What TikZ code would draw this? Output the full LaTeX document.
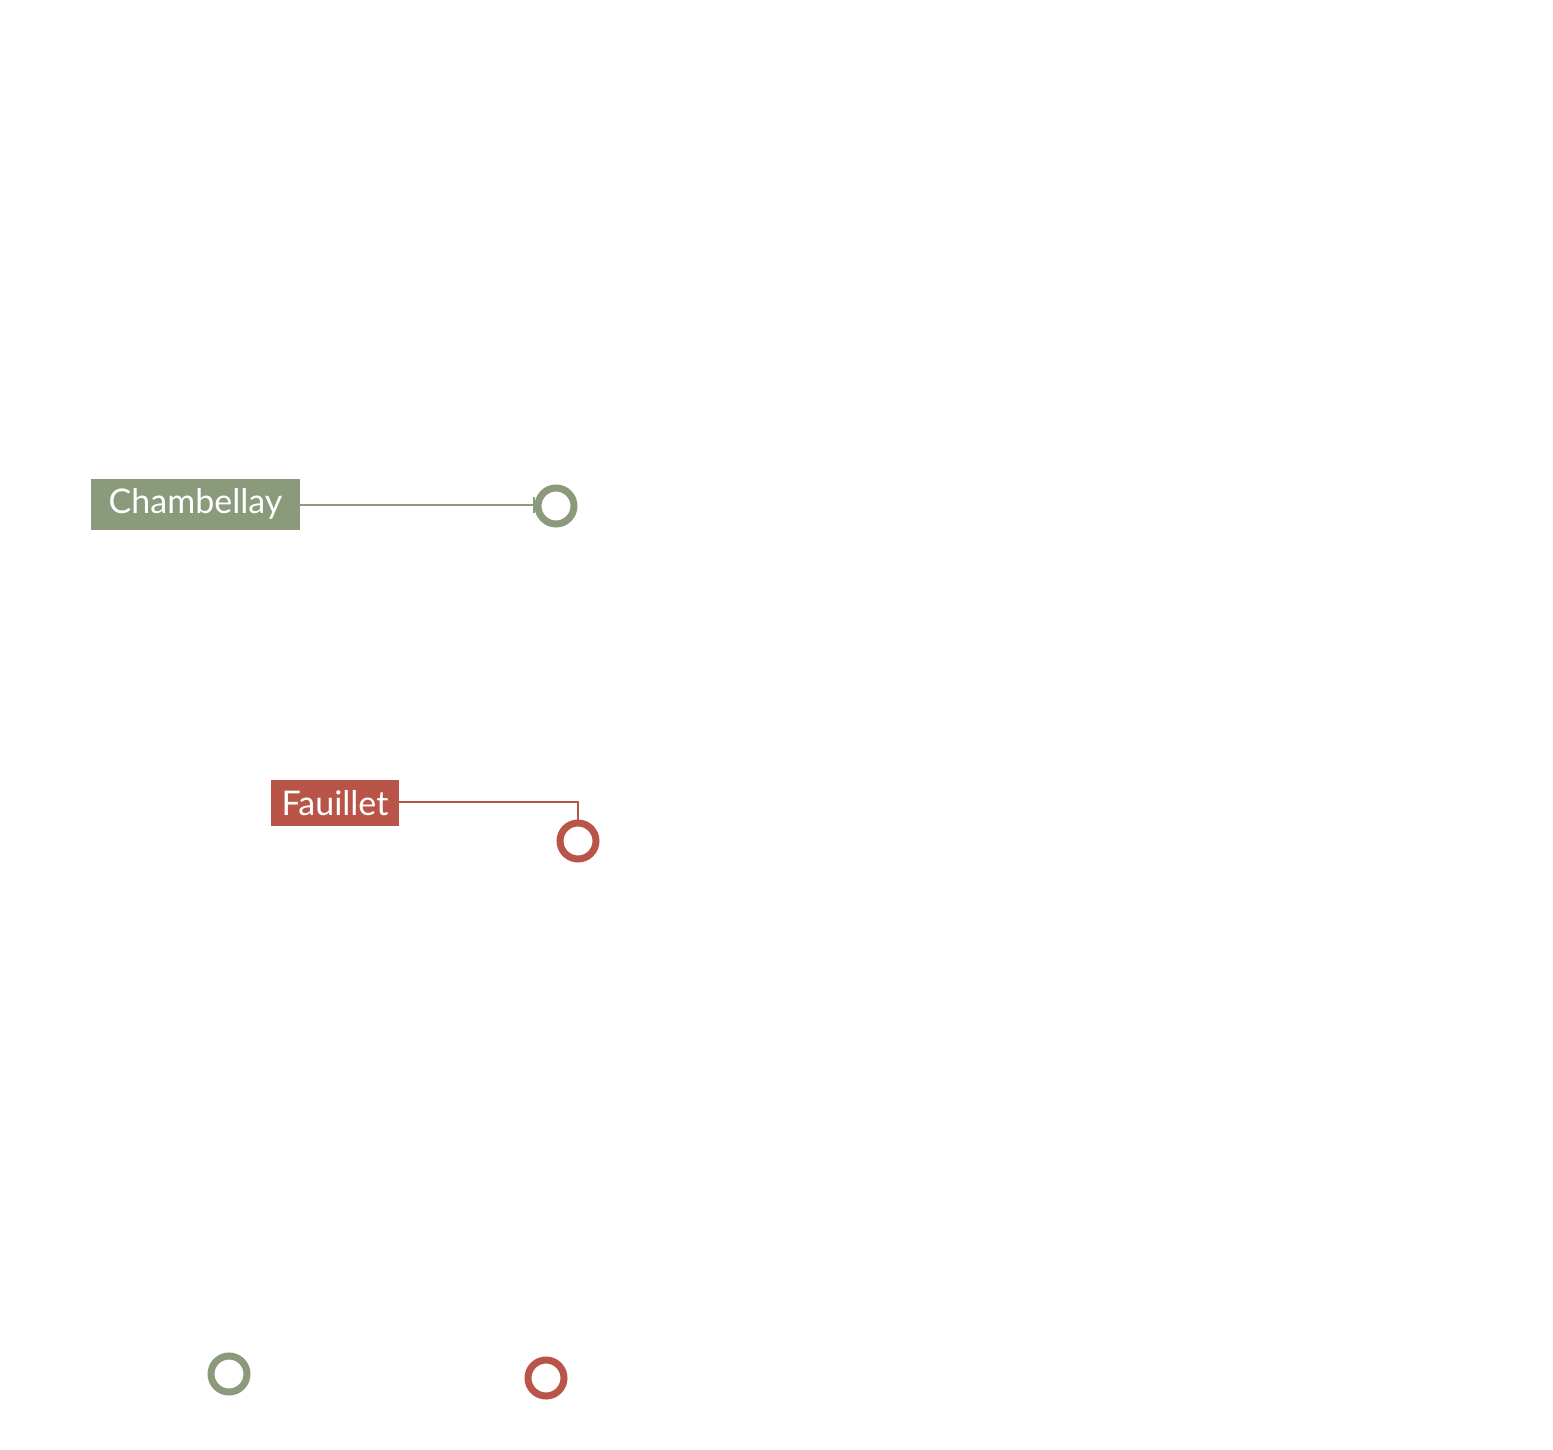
\documentclass[tikz,border=0pt]{standalone}
\usepackage{fontspec}
\setmainfont{Lato}
\definecolor{gr}{HTML}{8A9A7A}
\definecolor{rd}{HTML}{B85548}
\begin{document}
\begin{tikzpicture}[x=1pt,y=-1pt,
  lbl/.style={inner sep=0pt,text=white,font=\fontsize{34}{40}\selectfont,anchor=center},
  ring/.style={circle,draw=#1,line width=7pt,fill=white,minimum size=36pt,inner sep=0pt}]
\useasboundingbox (0,0) rectangle (1553,1450);
\fill[gr] (91,479) rectangle (300,530);
\node[lbl] (ch) at (195.5,504) {Chambellay};
\fill[rd] (271,780) rectangle (399,826);
\node[lbl] (fa) at (335,803) {Fauillet};
\node[ring=gr] (c1) at (556,506) {};
\node[ring=rd] (c2) at (578,841) {};
\node[ring=gr] (c3) at (229,1374) {};
\node[ring=rd] (c4) at (546,1378) {};
\coordinate (t1) at (534,505);
\draw[gr,line width=2pt] (300,505) -- (t1);
\draw[gr,line width=2pt] (534,497) -- (534,513);
\coordinate (k) at (578,802);
\draw[rd,line width=2pt] (399,802) -- (k) -- (c2.north);
\end{tikzpicture}
\end{document}
